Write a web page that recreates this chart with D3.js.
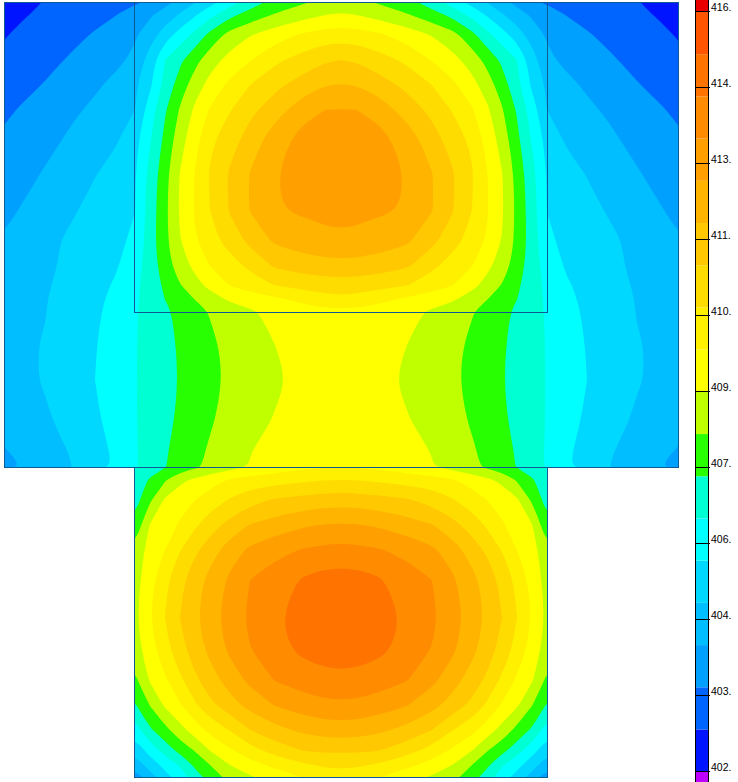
<!DOCTYPE html>
<html><head><meta charset="utf-8">
<style>html,body{margin:0;padding:0;background:#fff}svg{display:block}</style>
<script src="https://cdn.jsdelivr.net/npm/d3@7"></script></head>
<body><svg id="c" width="738" height="782"></svg>
<script>
// Field, left half; the plot is mirror-symmetric about its centre line.
// Values are in colour-band units: 0 = 402.2 on the colour bar, one unit = one band.
const xPositions=[4,25,45,70,95,115,135,150,165,180,195,210,230,250,275,305,325,341];
const yPositions=[2,15,35,60,85,110,140,175,210,240,265,285,300,312,345,380,420,450,467,480,500,525,550,580,618,650,680,705,730,750,765,778];
const upperRows=[
[.55,.78,1.03,1.26,1.5,1.68,1.88,2.1,2.7,3.3,3.95,4.65,5.55,6.5,7.3,7.9,8.38,8.5],
[.72,.95,1.2,1.5,1.78,1.97,2.46,2.87,3.45,4.1,4.9,5.7,6.75,7.4,8.1,8.65,9,9.1],
[.93,1.25,1.5,1.78,2.07,2.35,2.9,3.55,4.5,5.45,6.3,7.3,8.4,8.95,9.55,10.2,10.45,10.5],
[1.27,1.5,1.75,2.08,2.45,2.75,3.2,4.5,6,6.8,7.7,8.55,9.35,9.95,10.8,11.45,11.9,12],
[1.55,1.8,2.05,2.4,2.85,3.25,3.83,4.8,6.3,7.5,8.5,9.35,10.25,11,11.75,12.5,12.95,13.05],
[1.85,2.12,2.4,2.8,3.2,3.6,4,5.55,6.9,8.1,9.2,10.1,10.95,11.75,12.55,13.7,14,14.05],
[2.15,2.4,2.7,3.15,3.5,3.85,4.67,5.9,7.25,8.6,9.7,10.8,11.6,12.45,13.6,14.4,14.52,14.55],
[2.45,2.75,3.1,3.55,3.97,4.45,4.95,6.35,7.7,9.05,10.05,11.1,12.15,13.05,13.95,14.5,14.62,14.65],
[2.75,3.12,3.45,3.85,4.3,4.65,4.98,6.45,7.75,9.15,10.1,11,12.1,13.05,13.95,14.15,14.27,14.3],
[3.1,3.4,3.75,4.15,4.5,4.8,5.15,6.55,7.75,8.95,9.9,10.65,11.45,12.3,13.2,13.55,13.75,13.8],
[3.3,3.6,3.8,4.2,4.55,4.85,5.6,6.45,7.55,8.55,9.3,10.05,10.6,11.25,12.2,12.55,12.67,12.7],
[3.45,3.7,3.9,4.3,4.7,5.1,5.8,6.4,7.2,7.95,8.65,9.3,10.05,10.5,11.05,11.35,11.5,11.55],
[3.55,3.8,3.95,4.4,4.8,5.2,5.85,6.4,7,7.5,8,8.5,9.1,9.4,9.75,10.25,10.6,10.7],
[3.6,3.85,3.97,4.45,4.85,5.3,5.9,6.35,6.8,7.25,7.65,8.05,8.45,8.85,9.25,9.55,9.67,9.7],
[3.7,3.9,4.05,4.5,4.95,5.45,5.95,6.35,6.75,7.1,7.5,7.85,8.2,8.55,9,9.3,9.42,9.45],
[3.7,3.9,4.05,4.5,5,5.5,5.95,6.3,6.7,7.05,7.4,7.75,8.15,8.5,8.87,9.2,9.28,9.3],
[3.45,3.7,3.9,4.25,4.85,5.35,5.95,6.35,6.75,7.15,7.5,7.9,8.3,8.65,9.05,9.4,9.55,9.6],
[2.95,3.3,3.6,4.05,4.65,5.15,5.9,6.4,6.9,7.35,7.75,8.1,8.6,8.95,9.45,9.75,9.87,9.9],
[2.65,3.05,3.45,3.95,4.55,5.1,5.9,6.4,6.95,7.4,7.85,8.2,8.65,9.05,9.5,9.8,9.92,9.95]];
// Lower block has no cells left of x = 135, so its rows start there.
const lowerRows=[
[6.25,7.15,7.9,8.75,9.2,9.6,10.1,10.4,10.6,10.85,10.97,11],
[6.6,7.85,9.15,9.7,10,10.5,11.1,11.65,12.1,12.35,12.5,12.55],
[7.3,9.05,9.6,10.1,10.85,11.55,12.35,13.05,13.45,13.9,14.05,14.1],
[8.25,9.45,10,10.95,11.8,12.55,13.5,14.2,14.7,15.1,15.25,15.3],
[8.6,9.7,10.8,11.75,12.6,13.3,14.2,15,15.55,16.15,16.4,16.45],
[8.8,9.95,11,12,12.85,13.6,14.5,15.2,15.9,16.4,16.55,16.6],
[8.55,9.6,10.65,11.65,12.5,13.25,14.2,14.95,15.7,16.25,16.4,16.45],
[7.8,9.1,9.85,10.8,11.8,12.55,13.45,14.25,15.05,15.5,15.7,15.75],
[6.9,8.05,9.15,9.9,10.85,11.75,12.6,13.35,14.05,14.55,14.75,14.8],
[5.5,6.85,7.7,8.65,9.5,10.3,11.05,12,12.7,13.25,13.45,13.5],
[4.4,5.4,6.45,7.35,8.1,9.05,9.9,10.65,11.45,12.1,12.18,12.2],
[3.4,4.45,5.3,6.1,7.2,8,9,9.6,10.25,10.9,11.13,11.2],
[2.4,3.5,4.6,5.45,6.5,7.35,8.3,8.85,9.35,10,10.4,10.5]];
const bandColors=["#c000ff","#0014ff","#0064ff","#00a0ff","#00beff","#00d8ff","#00ffff","#00ffd2","#28ff00","#c0ff00","#ffff00","#fff000","#ffdc00","#ffc800","#ffb400","#ffa000","#ff8c00","#ff7300","#ff5500","#e80000"];
const tickValues=[402.2,403.58,404.96,406.34,407.72,409.1,410.48,411.86,413.24,414.62,416];
const tickLabels=["402.","403.","404.","406.","407.","409.","410.","411.","413.","414.","416."];
const bandStart=402.2, bandStep=13.8/18;

const svg=d3.select("#c");
const halfCols=xPositions.length;
const leftRows=upperRows.concat(lowerRows.map(r=>Array(halfCols-r.length).fill(r[0]).concat(r)));
const fullRows=leftRows.map(r=>r.concat(r.slice(0,-1).reverse()));
const mirrorX=xPositions.concat(xPositions.slice(0,-1).reverse().map(x=>2*341-x));
const nx=mirrorX.length, ny=yPositions.length;
const xS=d3.scaleLinear().domain(d3.range(nx)).range(mirrorX);
const yS=d3.scaleLinear().domain(d3.range(ny)).range(yPositions);

const defs=svg.append("defs");
const cp=defs.append("clipPath").attr("id","dom");
const blocks=[[4,2,678,467],[135,467,547,778]];
cp.selectAll("rect").data(blocks).join("rect")
 .attr("x",d=>d[0]).attr("y",d=>d[1]).attr("width",d=>d[2]-d[0]).attr("height",d=>d[3]-d[1]);

const thresholds=d3.range(1,18);
const contours=d3.contours().size([nx,ny]).thresholds(thresholds)(fullRows.flat());
const ringLine=d3.line().x(p=>xS(p[0]-.5)).y(p=>yS(p[1]-.5)).curve(d3.curveBasisClosed);
const bandPath=c=>c.coordinates.map(poly=>poly.map(ring=>ringLine(ring.slice(0,-1))).join("")).join("");
const g=svg.append("g").attr("clip-path","url(#dom)");
g.selectAll("rect").data(blocks).join("rect")
 .attr("x",d=>d[0]).attr("y",d=>d[1]).attr("width",d=>d[2]-d[0]).attr("height",d=>d[3]-d[1]).attr("fill",bandColors[1]);
g.selectAll("path").data(contours).join("path").attr("d",bandPath).attr("fill",d=>bandColors[d.value+1]);

// outlines
const frames=[[4,2,678,467],[134,2,547,312],[134,467,547,777]];
svg.append("g").selectAll("rect").data(frames).join("rect")
 .attr("x",d=>d[0]+.5).attr("y",d=>d[1]+.5).attr("width",d=>d[2]-d[0]).attr("height",d=>d[3]-d[1])
 .attr("fill","none").attr("stroke","#0d5a94").attr("stroke-width",1);

// colour bar
const vS=d3.scaleLinear().domain([402.2,416]).range([771.7,12]);
const edges=[-Infinity].concat(d3.range(0,19).map(k=>bandStart+k*bandStep),[Infinity]);
const barY=v=>v===Infinity?0:v===-Infinity?782:vS(v);
const bar=svg.append("g");
bar.selectAll("rect").data(bandColors).join("rect")
 .attr("x",695).attr("width",14)
 .attr("y",(d,i)=>barY(edges[i+1])).attr("height",(d,i)=>barY(edges[i])-barY(edges[i+1])).attr("fill",d=>d);
bar.append("path").attr("d","M695.5,0V782M708.5,0V782").attr("stroke","#000").attr("fill","none");
const tk=bar.append("g").selectAll("g").data(tickValues).join("g")
 .attr("transform",d=>`translate(0,${Math.round(vS(d))-.5})`);
tk.append("line").attr("x1",695).attr("x2",710).attr("stroke","#000");
tk.append("text").attr("x",711).attr("y",-1).text((d,i)=>tickLabels[i])
 .attr("font-family","'Liberation Sans',Arial,sans-serif").attr("font-size",10.5).attr("fill","#000");
</script></body></html>
